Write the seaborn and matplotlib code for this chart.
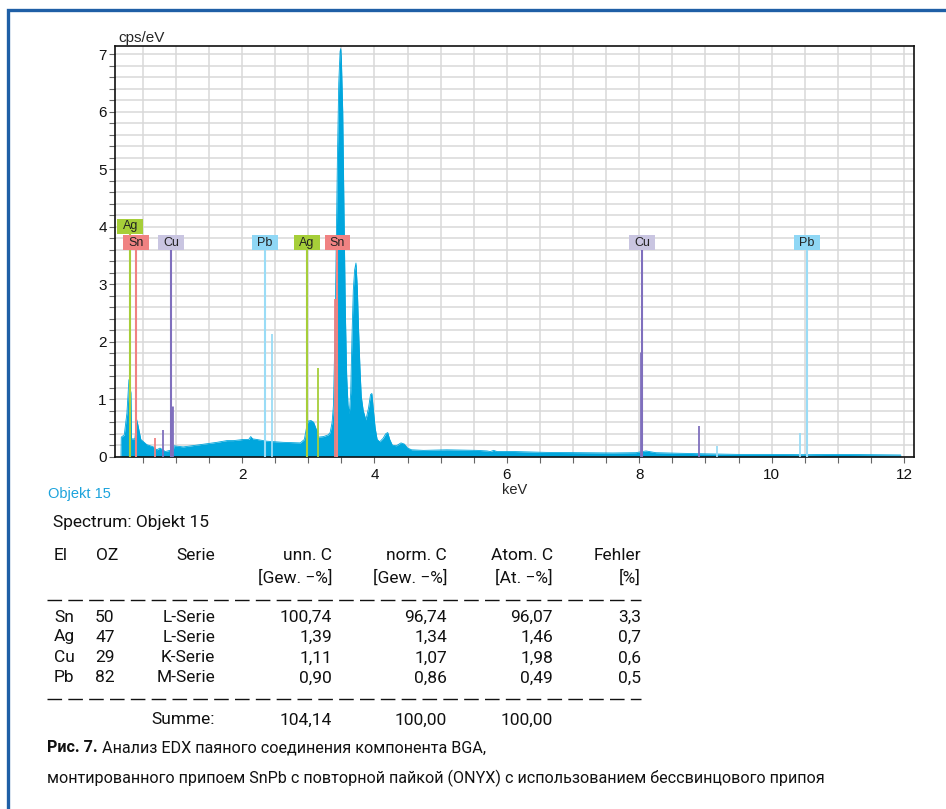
import matplotlib
matplotlib.use('Agg')
import matplotlib.pyplot as plt
import seaborn as sns
from matplotlib.patches import Rectangle
from matplotlib.lines import Line2D
from matplotlib.ticker import MultipleLocator

# EDX spectrum (keV, cps/eV)
energy = [0.17, 0.175, 0.22, 0.26, 0.29, 0.32, 0.33, 0.38, 0.41, 0.43, 0.47, 0.50,
          0.56, 0.66, 0.71, 0.76, 0.84, 0.91, 0.96, 0.97, 1.11, 1.37, 1.62, 1.77,
          1.87, 2.02, 2.10, 2.13, 2.16, 2.22, 2.37, 2.62, 2.88, 2.94, 2.98, 3.00,
          3.04, 3.08, 3.13, 3.15, 3.23, 3.30, 3.33, 3.36, 3.38, 3.40, 3.42, 3.44,
          3.46, 3.48, 3.49, 3.50, 3.52, 3.54, 3.56, 3.58, 3.60, 3.62, 3.64, 3.66,
          3.68, 3.70, 3.72, 3.74, 3.76, 3.78, 3.80, 3.83, 3.87, 3.91, 3.94, 3.96,
          3.98, 4.01, 4.04, 4.08, 4.13, 4.17, 4.20, 4.23, 4.27, 4.33, 4.40, 4.45,
          4.50, 4.56, 4.74, 5.09, 5.55, 5.70, 5.75, 5.80, 5.85, 6.10, 6.60, 7.10,
          7.60, 7.95, 8.05, 8.10, 8.25, 8.60, 9.00, 9.50, 10.0, 10.5, 11.0, 11.5,
          11.95]
counts = [0.0, 0.34, 0.38, 0.76, 1.34, 1.11, 0.31, 0.31, 0.64, 0.53, 0.30, 0.27,
          0.21, 0.17, 0.12, 0.15, 0.09, 0.11, 0.10, 0.19, 0.17, 0.21, 0.25, 0.28,
          0.28, 0.30, 0.30, 0.35, 0.31, 0.30, 0.27, 0.25, 0.24, 0.30, 0.55, 0.62,
          0.63, 0.60, 0.45, 0.34, 0.35, 0.38, 0.42, 0.60, 0.90, 2.0, 3.5, 5.2,
          6.5, 7.05, 7.1, 6.9, 6.0, 4.2, 2.5, 1.4, 0.9, 0.75, 1.1, 2.1,
          2.9, 3.25, 3.37, 2.95, 2.2, 1.55, 1.05, 0.80, 0.64, 0.85, 1.08, 1.10,
          0.85, 0.50, 0.30, 0.26, 0.32, 0.40, 0.42, 0.30, 0.20, 0.19, 0.24, 0.22,
          0.15, 0.12, 0.11, 0.12, 0.11, 0.10, 0.09, 0.11, 0.09, 0.09, 0.075, 0.07,
          0.065, 0.07, 0.09, 0.10, 0.07, 0.06, 0.05, 0.04, 0.04, 0.035, 0.04, 0.035,
          0.03]

# labelled element lines (keV) and label row (1 = upper)
label_energy = [0.31, 0.40, 0.93, 2.34, 2.98, 3.44, 8.04, 10.53]
label_element = ['Ag', 'Sn', 'Cu', 'Pb', 'Ag', 'Sn', 'Cu', 'Pb']
label_row = [1, 0, 0, 0, 0, 0, 0, 0]

# short element lines (keV, height)
line_energy = [0.69, 0.81, 0.945, 2.45, 3.14, 3.41, 8.03, 8.90, 9.18, 10.43]
line_element = ['Sn', 'Cu', 'Cu', 'Pb', 'Ag', 'Sn', 'Cu', 'Cu', 'Pb', 'Pb']
line_height = [0.33, 0.46, 0.88, 2.13, 1.55, 2.75, 1.82, 0.53, 0.19, 0.41]

line_colors = {'Ag': '#a6ce39', 'Sn': '#f08282', 'Cu': '#7f6fbd', 'Pb': '#9adcf6'}
box_colors = {'Ag': '#a6ce39', 'Sn': '#f08282', 'Cu': '#c9c5e1', 'Pb': '#8fd7f5'}

# quantification table
tbl_el = ['Sn', 'Ag', 'Cu', 'Pb']
tbl_oz = ['50', '47', '29', '82']
tbl_serie = ['L-Serie', 'L-Serie', 'K-Serie', 'M-Serie']
tbl_unn = ['100,74', '1,39', '1,11', '0,90']
tbl_norm = ['96,74', '1,34', '1,07', '0,86']
tbl_atom = ['96,07', '1,46', '1,98', '0,49']
tbl_err = ['3,3', '0,7', '0,6', '0,5']
tbl_sum = ['104,14', '100,00', '100,00']

W, H = 946, 809


def px(x, y):
    return x / W, 1 - y / H


sns.set_style('whitegrid')
plt.rcParams['font.family'] = ['Liberation Sans Narrow', 'Liberation Sans', 'DejaVu Sans']

fig = plt.figure(figsize=(W / 100, H / 100), dpi=100)
ax = fig.add_axes([115 / W, 1 - 456.7 / H, (914 - 115) / W, (456.7 - 45.7) / H])

spec_color = '#00a6dd'
ax.fill_between(energy, counts, 0, color=spec_color, lw=0, zorder=2)
sns.lineplot(x=energy, y=counts, ax=ax, color=spec_color, lw=0.6, zorder=2, sort=False)

for e, el, h in zip(line_energy, line_element, line_height):
    lw = 2.0 if el == 'Cu' and h > 0.8 else 1.3
    ax.plot([e, e], [0, h], color=line_colors[el], lw=lw, zorder=3, solid_capstyle='butt')

row_bottom = [3.59, 3.87]
box_h = 0.27
box_w = 0.39
for e, el, r in zip(label_energy, label_element, label_row):
    y0 = row_bottom[r]
    ax.plot([e, e], [0, y0], color=line_colors[el], lw=1.5, zorder=3, solid_capstyle='butt')
    ax.add_patch(Rectangle((e - box_w / 2, y0), box_w, box_h, facecolor=box_colors[el],
                           edgecolor='none', zorder=4))
    ax.text(e, y0 + box_h / 2, el, ha='center', va='center', fontsize=9,
            family=['Liberation Sans', 'DejaVu Sans'], color='#222222', zorder=5)

ax.set_xlim(0.08, 12.15)
ax.set_ylim(0, 7.15)
ax.xaxis.set_minor_locator(MultipleLocator(0.5))
ax.yaxis.set_major_locator(MultipleLocator(1))
ax.yaxis.set_minor_locator(MultipleLocator(0.2))
ax.set_xticks([2, 4, 6, 8, 10, 12])
ax.grid(which='both', color='#d9d9d9', lw=1.1, zorder=0)
ax.set_axisbelow(True)
ax.tick_params(which='both', direction='out', length=4, width=0.8, color='#666666',
               labelsize=11, labelcolor='#111111', bottom=True, left=True)
ax.tick_params(axis='x', pad=4)
ax.tick_params(axis='y', pad=2)
for s in ax.spines.values():
    s.set_color('#111111')
    s.set_linewidth(1.2)
ax.set_xlabel('keV', fontsize=10.5, labelpad=1)
ax.set_ylabel('')

fig.text(*px(118, 38), 'cps/eV', fontsize=11, va='center', ha='left')
fig.text(*px(48, 494), 'Objekt 15', fontsize=10.5, va='center', ha='left', color='#1ca3dc')

# outer blue frame (only left and top visible)
fig.patches.append(Rectangle((8 / W, -0.05), 1.0, 1 - 10 / H + 0.05, transform=fig.transFigure,
                             fill=False, edgecolor='#1f5fa6', lw=2.4))

tf = dict(fontsize=12.5, family=['Roboto', 'DejaVu Sans'], color='#111111', va='center')
fig.text(*px(53, 523), 'Spectrum: Objekt 15', ha='left', **tf)

col_right = [215, 332, 447, 553, 641]
head1 = ['Serie', 'unn. C', 'norm. C', 'Atom. C', 'Fehler']
head2 = ['', '[Gew. \u2212%]', '[Gew. \u2212%]', '[At. \u2212%]', '[%]']
fig.text(*px(54, 555), 'El', ha='left', **tf)
fig.text(*px(96, 555), 'OZ', ha='left', **tf)
for x, h1, h2 in zip(col_right, head1, head2):
    fig.text(*px(x, 555), h1, ha='right', **tf)
    if h2:
        fig.text(*px(x, 578), h2, ha='right', **tf)

row_y = [617, 637, 658, 678]
for i, y in enumerate(row_y):
    fig.text(*px(54, y), tbl_el[i], ha='left', **tf)
    fig.text(*px(95, y), tbl_oz[i], ha='left', **tf)
    vals = [tbl_serie[i], tbl_unn[i], tbl_norm[i], tbl_atom[i], tbl_err[i]]
    for x, v in zip(col_right, vals):
        fig.text(*px(x, y), v, ha='right', **tf)

for y in (600, 699):
    fig.lines.append(Line2D([47 / W, 641 / W], [1 - y / H] * 2, transform=fig.transFigure,
                            color='#111111', lw=1.0, dashes=(10.5, 4.5)))

fig.text(*px(215, 720), 'Summe:', ha='right', **tf)
for x, v in zip(col_right[1:4], tbl_sum):
    fig.text(*px(x, 720), v, ha='right', **tf)

cf = dict(fontsize=11.6, family=['Roboto', 'DejaVu Sans'], color='#111111', va='center')
bold = fig.text(*px(47, 748), 'Рис. 7.', ha='left', fontweight='bold', **cf)
plt.annotate(' Анализ EDX паяного соединения компонента BGA,', xy=(1, 0.5), xycoords=bold,
             ha='left', va='center', fontsize=11.6, family=['Roboto', 'DejaVu Sans'],
             color='#111111', annotation_clip=False)
fig.text(*px(47, 778),
         'монтированного припоем SnPb с повторной пайкой (ONYX) с использованием бессвинцового припоя',
         ha='left', **cf)

fig.savefig('out.png', dpi=100)
